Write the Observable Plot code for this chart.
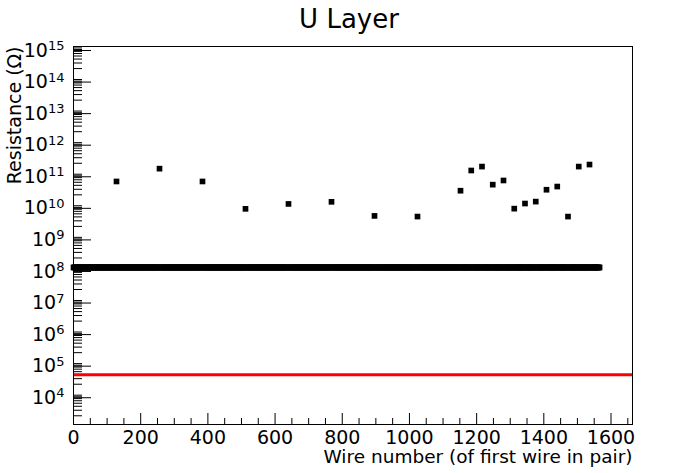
<!DOCTYPE html>
<html>
<head>
<meta charset="utf-8">
<script src="https://cdn.jsdelivr.net/npm/d3@7"></script>
<script src="https://cdn.jsdelivr.net/npm/@observablehq/plot@0.6"></script>
<style>
  html, body { margin: 0; padding: 0; background: #ffffff; }
  #chart svg { display: block; }
</style>
</head>
<body>
<div id="chart"></div>
<script>
// ---- text ----
const titleText = "U Layer";
const xTitle = "Wire number (of first wire in pair)";
const yTitle = "Resistance (\u03A9)";

// ---- data ----
// wires measured (first wire of each pair)
const wireFirst = 0;
const wireLast = 1566;
const wireStep = 2;
const openValue = 1e8; // value of the dense band

// outlier wires and their resistance (Ω)
const outlierWire = [128, 256, 384, 512, 640, 768, 896, 1024, 1152, 1184, 1216, 1248, 1280, 1312, 1344, 1376, 1408, 1440, 1472, 1504, 1536];
const outlierOhm  = [5.3e10, 1.35e11, 5.3e10, 7.2e9, 1.03e10, 1.2e10, 4.3e9, 4.1e9, 2.7e10, 1.18e11, 1.57e11, 4.2e10, 5.7e10, 7.3e9, 1.06e10, 1.22e10, 2.9e10, 3.66e10, 4.1e9, 1.57e11, 1.82e11];

// red threshold line
const threshold = [4e4];

// ---- axes ----
const xDomain = [0, 1664];
const yDomain = [1.06e3, 1e15];
const xMajorTicks = [0, 200, 400, 600, 800, 1000, 1200, 1400, 1600];
const xMinorTicks = [50, 100, 150, 250, 300, 350, 450, 500, 550, 650, 700, 750, 850, 900, 950, 1050, 1100, 1150, 1250, 1300, 1350, 1450, 1500, 1550, 1650];
const yExponents = [4, 5, 6, 7, 8, 9, 10, 11, 12, 13, 14, 15];
const yMinorMultipliers = [2, 3, 4, 5, 6, 7, 8, 9];

// ---- build tables ----
const outlierSet = new Set(outlierWire);
const band = d3.range(wireFirst, wireLast + 1, wireStep)
  .filter(w => !outlierSet.has(w))
  .map(w => ({wire: w, ohm: openValue}));
const outliers = outlierWire.map((w, i) => ({wire: w, ohm: outlierOhm[i]}));
const points = band.concat(outliers);

const yMajorTicks = yExponents.map(e => Math.pow(10, e));
const yMinorTicks = [];
for (let e = 3; e <= 14; e++) {
  for (const m of yMinorMultipliers) {
    const v = m * Math.pow(10, e);
    if (v >= yDomain[0] && v <= yDomain[1]) yMinorTicks.push(v);
  }
}

const font = "'DejaVu Sans', 'Liberation Sans', sans-serif";
const tickFont = 19;
const chart = Plot.plot({
  width: 698,
  height: 473,
  marginLeft: 73,
  marginRight: 66,
  marginTop: 46,
  marginBottom: 49,
  style: {fontFamily: font, fontSize: tickFont + "px", background: "#ffffff", color: "#000000"},
  x: {domain: xDomain, label: null},
  y: {type: "log", domain: yDomain, label: null},
  marks: [
    // ticks (pointing inward)
    Plot.axisX(xMinorTicks, {tickSize: -6, tickFormat: () => "", stroke: "#000"}),
    Plot.axisX(xMajorTicks, {tickSize: -11, tickPadding: 17, tickFormat: d => String(d), fontSize: tickFont, stroke: "#000", fill: "#000"}),
    Plot.axisY(yMinorTicks, {tickSize: -9, tickFormat: () => "", stroke: "#000"}),
    Plot.axisY(yMajorTicks, {tickSize: -18, tickPadding: 27, dy: 4, tickFormat: d => "10^" + Math.round(Math.log10(d)), fontSize: tickFont, stroke: "#000", fill: "#000"}),
    // threshold
    Plot.ruleY(threshold, {stroke: "#ff0000", strokeWidth: 3}),
    // data points
    Plot.dot(points, {x: "wire", y: "ohm", symbol: "square", r: 3.2, fill: "#000", stroke: null}),
    Plot.frame({stroke: "#000", strokeWidth: 1}),
    // titles
    Plot.text([titleText], {frameAnchor: "top", dx: -4, dy: -19, lineAnchor: "bottom", fontSize: 26, fill: "#000"}),
    Plot.text([xTitle], {frameAnchor: "bottom-right", dy: 38, textAnchor: "end", lineAnchor: "bottom", fontSize: 18.5, fill: "#000"}),
    Plot.text([yTitle], {frameAnchor: "top-left", dx: -52.5, rotate: -90, textAnchor: "end", lineAnchor: "bottom", fontSize: 19, fill: "#000"})
  ]
});

// superscript exponents on the y tick labels
d3.select(chart).selectAll("g[aria-label='y-axis tick label'] text").each(function () {
  const t = this.textContent;
  if (!t.includes("^")) return;
  const [base, exp] = t.split("^");
  const sel = d3.select(this);
  sel.text(null);
  sel.append("tspan").text(base);
  sel.append("tspan").attr("dy", "-0.5em").attr("font-size", "13px").text(exp);
});

document.getElementById("chart").appendChild(chart);
</script>
</body>
</html>
